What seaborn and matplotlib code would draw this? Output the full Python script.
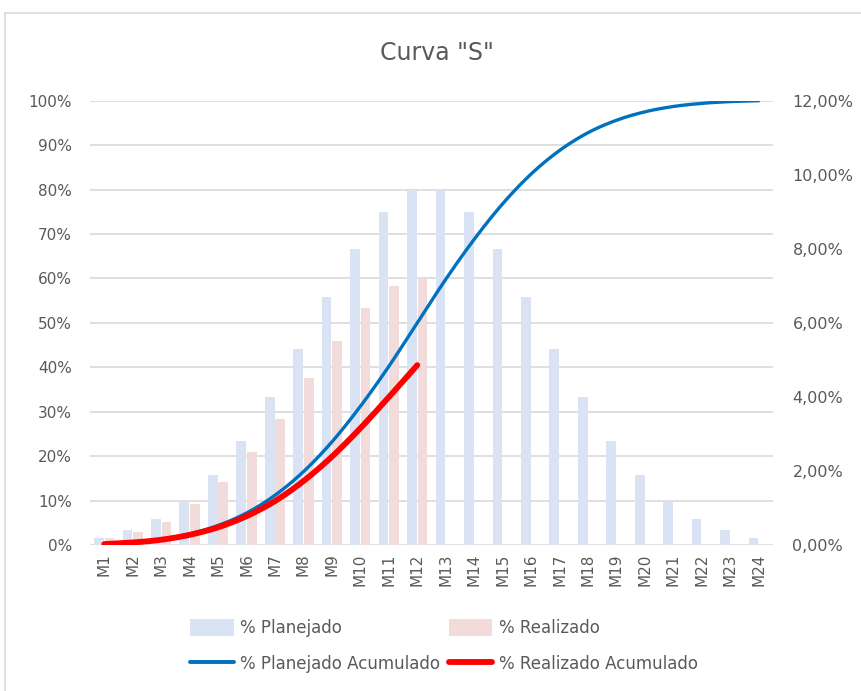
import numpy as np
import pandas as pd
import matplotlib
matplotlib.use("Agg")
import matplotlib.pyplot as plt
import seaborn as sns
from matplotlib.patches import Patch, Rectangle
from matplotlib.lines import Line2D
from matplotlib.ticker import FuncFormatter

# ---- data -------------------------------------------------------------
meses = ["M1", "M2", "M3", "M4", "M5", "M6", "M7", "M8", "M9", "M10", "M11", "M12",
         "M13", "M14", "M15", "M16", "M17", "M18", "M19", "M20", "M21", "M22", "M23", "M24"]

# monthly progress (right axis, %)
planejado = [0.2, 0.4, 0.7, 1.2, 1.9, 2.8, 4.0, 5.3, 6.7, 8.0, 9.0, 9.6,
             9.6, 9.0, 8.0, 6.7, 5.3, 4.0, 2.8, 1.9, 1.2, 0.7, 0.4, 0.2]
realizado = [0.2, 0.36, 0.62, 1.1, 1.7, 2.5, 3.4, 4.5, 5.5, 6.4, 7.0, 7.2]

# cumulative progress (left axis, %)
planejado_acum = [0.2, 0.6, 1.3, 2.5, 4.4, 7.2, 11.2, 16.5, 23.2, 31.2, 40.2, 50.0,
                  59.8, 68.8, 76.8, 83.5, 88.8, 92.8, 95.6, 97.5, 98.7, 99.4, 99.8, 100.0]
realizado_acum = [0.2, 0.56, 1.18, 2.28, 3.98, 6.48, 9.88, 14.38, 19.88, 26.28, 33.28, 40.48]

# ---- style ------------------------------------------------------------
sns.set_theme(style="white")
plt.rcParams["font.family"] = ["DejaVu Sans"]
TXT = "#595959"
GRID = "#d9d9d9"
C_PLAN_BAR = "#dae3f3"
C_REAL_BAR = "#f2dcdb"
C_PLAN_LINE = "#0070c0"
C_REAL_LINE = "#ff0000"


def smooth(x, y, steps=24):
    """Catmull-Rom curve through the points (same look as a smoothed line)."""
    x = np.asarray(x, float)
    y = np.asarray(y, float)
    px = np.concatenate([[2 * x[0] - x[1]], x, [2 * x[-1] - x[-2]]])
    py = np.concatenate([[2 * y[0] - y[1]], y, [2 * y[-1] - y[-2]]])
    xs, ys = [], []
    t = np.linspace(0, 1, steps, endpoint=False)
    for i in range(1, len(px) - 2):
        for p, out in ((px, xs), (py, ys)):
            p0, p1, p2, p3 = p[i - 1], p[i], p[i + 1], p[i + 2]
            out.append(0.5 * ((2 * p1) + (-p0 + p2) * t
                              + (2 * p0 - 5 * p1 + 4 * p2 - p3) * t ** 2
                              + (-p0 + 3 * p1 - 3 * p2 + p3) * t ** 3))
    xs.append([x[-1]])
    ys.append([y[-1]])
    return np.concatenate(xs), np.concatenate(ys)


# ---- figure -----------------------------------------------------------
fig = plt.figure(figsize=(8.61, 6.91), dpi=100)
W, H = 861, 691
ax = fig.add_axes([90 / W, 1 - 545 / H, (773 - 90) / W, (545 - 100.7) / H])

# chart frame
fig.patches.append(Rectangle((5 / W, -0.05), 1.2, 1 - 13 / H + 0.05,
                             transform=fig.transFigure, fill=False,
                             edgecolor="#d9d9d9", linewidth=1.2, zorder=0))

# bars on the percentage-per-month scale
bars = pd.DataFrame({
    "mes": meses + meses[:len(realizado)],
    "valor": planejado + realizado,
    "serie": ["% Planejado"] * len(planejado) + ["% Realizado"] * len(realizado),
})
sns.barplot(data=bars, x="mes", y="valor", hue="serie", order=meses,
            hue_order=["% Planejado", "% Realizado"],
            palette=[C_PLAN_BAR, C_REAL_BAR], width=0.74, gap=0.08,
            saturation=1, ax=ax, legend=False, zorder=2,
            edgecolor="none", linewidth=0)
ax.set_ylim(0, 12)
ax.set_xlim(-0.5, len(meses) - 0.5)
for k in range(11):
    ax.axhline(k * 1.2, color=GRID, linewidth=1.2, zorder=0)
ax.set_xlabel("")
ax.set_ylabel("")
for s in ax.spines.values():
    s.set_visible(False)

# cumulative curves on the 0-100 % scale
ax2 = ax.twinx()
ax2.set_ylim(0, 100)
idx = np.arange(len(meses))
sx, sy = smooth(idx, planejado_acum)
ax2.plot(sx, sy, color=C_PLAN_LINE, linewidth=2.4, solid_capstyle="round", zorder=3)
rx, ry = smooth(idx[:len(realizado_acum)], realizado_acum)
ax2.plot(rx, ry, color=C_REAL_LINE, linewidth=4.2, solid_capstyle="round", zorder=4)
ax2.grid(False)
for s in ax2.spines.values():
    s.set_visible(False)

# left scale: cumulative; right scale: monthly
ax2.yaxis.tick_left()
ax2.set_yticks(np.arange(0, 101, 10))
ax2.yaxis.set_major_formatter(FuncFormatter(lambda v, _: f"{v:.0f}%"))
ax2.tick_params(axis="y", length=0, pad=13, labelsize=11, labelcolor=TXT)

ax.yaxis.tick_right()
ax.set_yticks(np.arange(0, 12.01, 2))
ax.yaxis.set_major_formatter(FuncFormatter(lambda v, _: f"{v:.2f}%".replace(".", ",")))
ax.tick_params(axis="y", which="both", left=False, labelleft=False, right=False,
               labelright=True, length=0, pad=14, labelsize=11.5, labelcolor=TXT)
ax.tick_params(axis="x", length=0, pad=6, labelsize=11, labelcolor=TXT, rotation=90)

fig.text(437 / W, 1 - 53 / H, 'Curva "S"', ha="center", va="center",
         fontsize=17, color=TXT)

handles = [
    Patch(facecolor=C_PLAN_BAR, edgecolor="none", label="% Planejado"),
    Line2D([], [], color=C_PLAN_LINE, linewidth=2.8, label="% Planejado Acumulado"),
    Patch(facecolor=C_REAL_BAR, edgecolor="none", label="% Realizado"),
    Line2D([], [], color=C_REAL_LINE, linewidth=4.2, label="% Realizado Acumulado"),
]
fig.legend(handles=handles, ncol=2, loc="center", bbox_to_anchor=(444 / W, 1 - 646 / H),
           frameon=False, fontsize=12, labelcolor=TXT, handlelength=2.6,
           handleheight=1.2, handletextpad=0.4, columnspacing=0.5, labelspacing=1.05)

fig.savefig("out.png", dpi=100)
